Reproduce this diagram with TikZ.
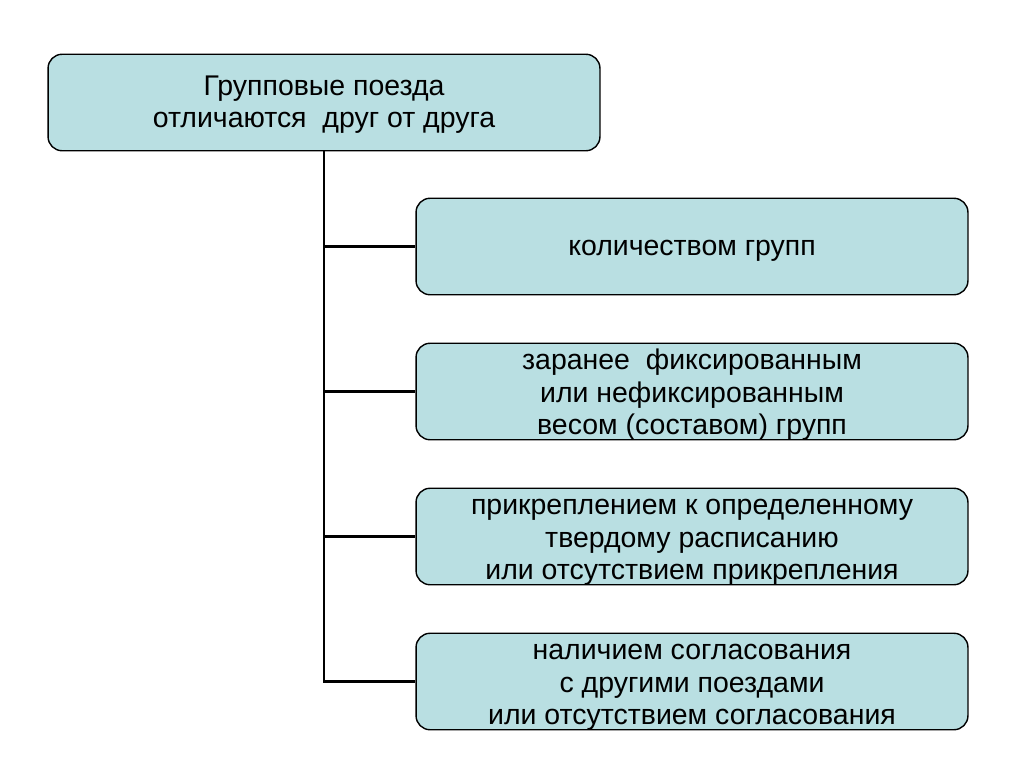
\documentclass[tikz,border=0pt]{standalone}
\usepackage{fontspec}
\setmainfont{Liberation Sans}
\usepackage{tikz}
\usetikzlibrary{positioning}
\definecolor{fondboite}{RGB}{185,223,226}
\tikzset{
Boite/.style={
 draw=black, 
 fill=fondboite, 
 line width=0.8pt, 
 rounded corners=8pt, 
 inner ysep=0pt, 
 text depth=0pt, 
 text height=#1, 
 minimum width=11.04cm, 
 minimum height=1.93cm, 
 align=center, 
 font=\fontsize{16.2}{18.5}\selectfont
 },
Boite/.default={49pt},
Liaison/.style={
 draw=black, 
 line width=1.7pt
 }
}
\begin{document}
\begin{tikzpicture}[x=0.02cm,y=-0.02cm]
\useasboundingbox (0,0) rectangle (1024,768);
\node[Boite=29pt] (groupes) at (324,102.5) {Групповые поезда\\отличаются\ \ друг от друга};
\node[Boite=10.8pt] (nombre) at (692,246.5) {количеством групп};
\node[Boite] (poids) at (692,391.5) {заранее\ \ фиксированным\\или нефиксированным\\весом (составом) групп};
\node[Boite] (horaire) at (692,536.5) {прикреплением к определенному\\твердому расписанию\\или отсутствием прикрепления};
\node[Boite] (accord) at (692,681.5) {наличием согласования\\с другими поездами\\или отсутствием согласования};
\draw[Liaison] (groupes.south) |- (accord.west);
\draw[Liaison] (groupes.south |- nombre.west) -- (nombre.west);
\draw[Liaison] (groupes.south |- poids.west) -- (poids.west);
\draw[Liaison] (groupes.south |- horaire.west) -- (horaire.west);
\end{tikzpicture}
\end{document}
